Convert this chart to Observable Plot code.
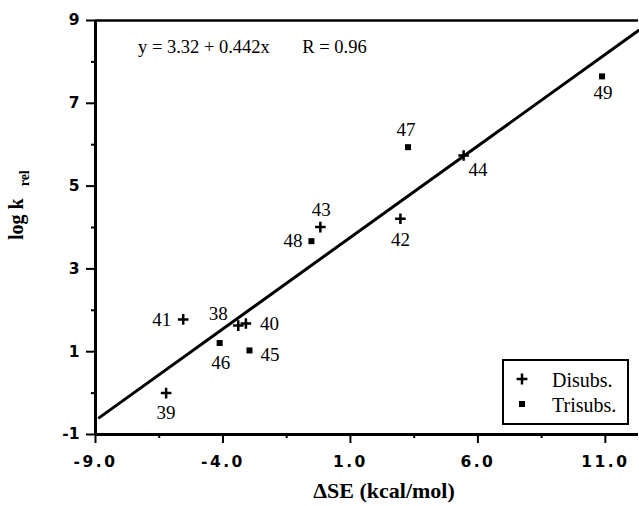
<!DOCTYPE html>
<html><head><meta charset="utf-8">
<script src="https://cdn.jsdelivr.net/npm/d3@7"></script>
<script src="https://cdn.jsdelivr.net/npm/@observablehq/plot@0.6"></script>
<style>
body{margin:0;background:#fff;}
#chart{width:639px;height:506px;}
#chart svg{overflow:visible;}
</style></head><body><div id="chart"></div>
<script>
// Disubstituted (+)
const disubIds = ["38","39","40","41","42","43","44"];
const disubX   = [-3.40,-6.23,-3.10,-5.56,2.96,-0.18,5.44];
const disubY   = [1.63,0.00,1.68,1.78,4.21,4.01,5.74];
// Trisubstituted (■)
const trisubIds = ["45","46","47","48","49"];
const trisubX   = [-2.96,-4.13,3.26,-0.53,10.87];
const trisubY   = [1.03,1.21,5.94,3.67,7.65];
// Regression y = 3.32 + 0.442x, R = 0.96
const fitIntercept = 3.32, fitSlope = 0.442, fitR = 0.96;
const fitXRange = [-8.85, 12.3];
// Axes
const xTicks = [-9, -4, 1, 6, 11];
const xMinor = [-6.5, -1.5, 3.5, 8.5];
const yTicks = [-1, 1, 3, 5, 7, 9];
const yMinor = [0, 2, 4, 6, 8];
const xLabel = "ΔSE (kcal/mol)";
const yLabelMain = "log k", yLabelSub = "rel";
const legendNames = ["Disubs.", "Trisubs."];

// label placement (layout only)
const labelPlace = {
  "38":{dx:-20,dy:-12,a:"middle"}, "39":{dx:0,dy:20,a:"middle"},
  "40":{dx:14,dy:0,a:"start"},     "41":{dx:-12,dy:0,a:"end"},
  "42":{dx:0,dy:21,a:"middle"},    "43":{dx:1,dy:-17,a:"middle"},
  "44":{dx:5,dy:14,a:"start"},     "45":{dx:11,dy:4,a:"start"},
  "46":{dx:1,dy:20,a:"middle"},    "47":{dx:-2,dy:-17,a:"middle"},
  "48":{dx:-9,dy:0,a:"end"},       "49":{dx:1,dy:17,a:"middle"}
};

const disub = disubIds.map((id,i)=>({id, x:disubX[i], y:disubY[i]}));
const trisub = trisubIds.map((id,i)=>({id, x:trisubX[i], y:trisubY[i]}));
const fit = fitXRange.map(x=>({x, y: fitIntercept + fitSlope*x}));
const all = disub.concat(trisub);

const serif = "'Liberation Serif','Times New Roman',serif";
const tickFont = "'DejaVu Sans',sans-serif";

const labelMarks = all.map(d => Plot.text([d], {
  x:"x", y:"y", text:"id", dx:labelPlace[d.id].dx, dy:labelPlace[d.id].dy,
  textAnchor:labelPlace[d.id].a, fontSize:19, fontFamily:serif, fill:"black"
}));

const plot = Plot.plot({
  width:639, height:506,
  marginLeft:95, marginRight:1, marginTop:20, marginBottom:72,
  x:{domain:[-9,12.3]}, y:{domain:[-1,9]},
  style:{background:"#fff", color:"black"},
  marks:[
    Plot.axisX(xTicks,{tickSize:9, tickPadding:12, strokeWidth:2, tickFormat:d=>d.toFixed(1), fontSize:15.5, fontWeight:"bold", fontFamily:tickFont, label:null}),
    Plot.axisX(xMinor,{tickSize:4, strokeWidth:2, tickFormat:()=>"", label:null}),
    Plot.axisY(yTicks,{tickSize:9, tickPadding:7, strokeWidth:2, tickFormat:d=>String(d), fontSize:15.5, fontWeight:"bold", fontFamily:tickFont, label:null}),
    Plot.axisY(yMinor,{tickSize:4, strokeWidth:2, tickFormat:()=>"", label:null}),
    Plot.ruleY([9],{strokeWidth:2.5}),
    Plot.ruleY([-1],{strokeWidth:3}),
    Plot.ruleX([-9],{strokeWidth:3}),
    Plot.line(fit,{x:"x", y:"y", stroke:"black", strokeWidth:3}),
    Plot.dot(disub,{x:"x", y:"y", symbol:"plus", r:3.5, stroke:"black", strokeWidth:2.5}),
    Plot.dot(trisub,{x:"x", y:"y", symbol:"square", r:3.4, fill:"black", stroke:null}),
    ...labelMarks
  ]
});
document.getElementById("chart").append(plot);

const svg = d3.select(plot);
svg.selectAll("g[aria-label='x-axis tick label'] text")
   .style("letter-spacing","2.5px");

// Equation
svg.append("text").attr("x",138).attr("y",53).attr("text-anchor","start")
  .attr("font-family",serif).attr("font-size",18.5)
  .attr("xml:space","preserve")
  .text(`y = ${fitIntercept.toFixed(2)} + ${fitSlope}x\u2003\u2002 R = ${fitR}`);

// x label
svg.append("text").attr("x",384).attr("y",498).attr("text-anchor","middle")
  .attr("font-family",serif).attr("font-size",22).attr("font-weight","bold")
  .text(xLabel);
// y label
const yl = svg.append("text").attr("transform","translate(23,240) rotate(-90)")
  .attr("text-anchor","start")
  .attr("font-family",serif).attr("font-weight","bold").attr("font-size",20);
yl.append("tspan").text(yLabelMain);
yl.append("tspan").attr("dx",12).attr("dy",6).attr("font-size",14).text(yLabelSub);

// legend
const lg = svg.append("g").attr("text-anchor","start");
lg.append("rect").attr("x",503).attr("y",360).attr("width",125).attr("height",64)
  .attr("fill","white").attr("stroke","black").attr("stroke-width",2);
lg.append("path").attr("d",d3.symbol(d3.symbolPlus, 40)())
  .attr("transform","translate(522,379)").attr("fill","none").attr("stroke","black").attr("stroke-width",2.5);
lg.append("path").attr("d",d3.symbol(d3.symbolSquare, 36)())
  .attr("transform","translate(522,404)").attr("fill","black");
lg.append("text").attr("x",552).attr("y",387).attr("font-family",serif).attr("font-size",20).text(legendNames[0]);
lg.append("text").attr("x",552).attr("y",412).attr("font-family",serif).attr("font-size",20).text(legendNames[1]);
</script></body></html>
